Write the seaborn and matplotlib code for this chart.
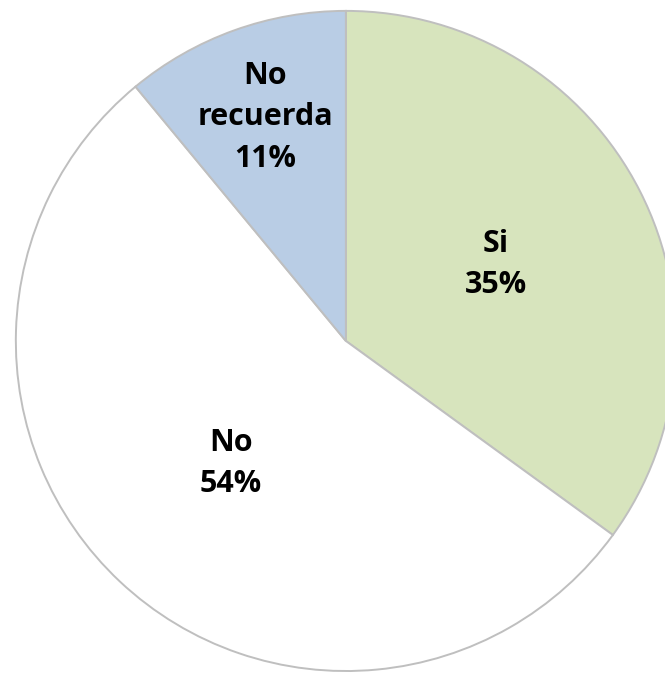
import numpy as np
import matplotlib
matplotlib.use("Agg")
import matplotlib.pyplot as plt
import seaborn as sns

# Datos del grafico
categorias = ["Si", "No", "No\nrecuerda"]
porcentajes = [35, 54, 11]
colores = ["#D7E4BD", "#FFFFFF", "#B9CDE5"]

sns.set_theme(style="white")
plt.rcParams['font.family'] = ['Open Sans', 'DejaVu Sans']

fig = plt.figure(figsize=(6.65, 6.74), dpi=100)
ax = fig.add_axes([0, 0, 1, 1])

etiquetas = [f"{c}\n{p}%" for c, p in zip(categorias, porcentajes)]
wedges, textos = ax.pie(
    porcentajes,
    labels=etiquetas,
    colors=colores,
    startangle=90,
    counterclock=False,
    labeldistance=0.51,
    wedgeprops=dict(edgecolor="#BFBFBF", linewidth=1.4),
    textprops=dict(fontsize=22, fontweight="bold", color="black",
                   ha="center", va="center", linespacing=1.5),
)

# la etiqueta pequeña va mas afuera
for w, t in zip(wedges, textos):
    t.set_ha("center")
    t.set_va("center")
    if w.theta2 - w.theta1 < 60:
        ang = np.deg2rad((w.theta1 + w.theta2) / 2)
        t.set_position((0.72 * np.cos(ang), 0.72 * np.sin(ang)))

ax.set_aspect("auto")
ax.set_xlim(-1.048, 0.967)
ax.set_ylim(-1.009, 1.033)
ax.axis("off")

fig.savefig("out.png", dpi=100, facecolor="white")
